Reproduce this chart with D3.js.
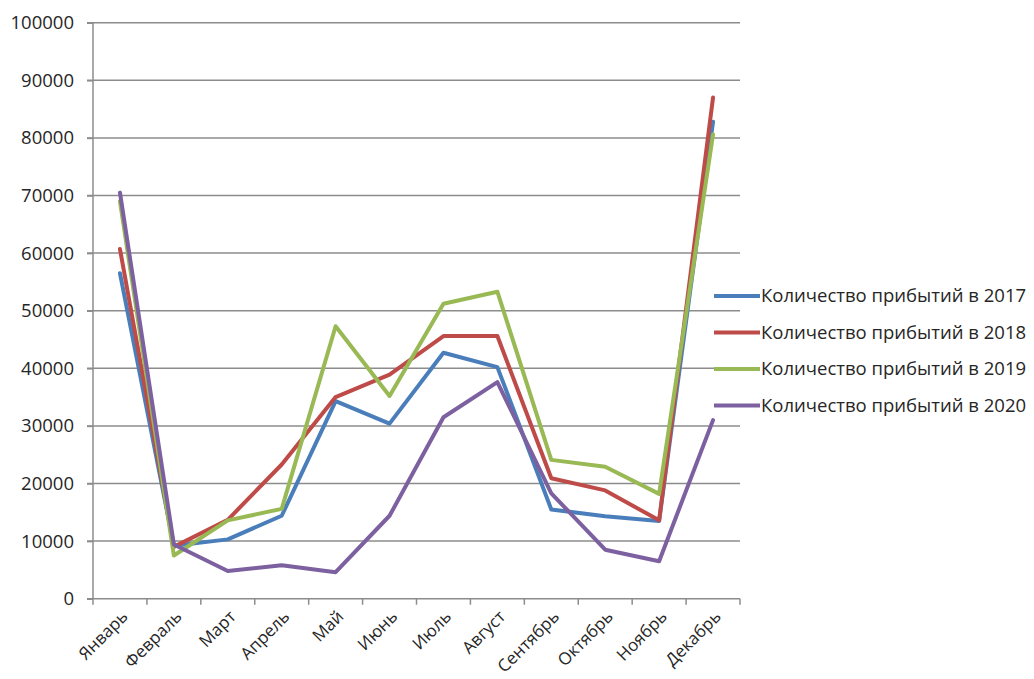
<!DOCTYPE html>
<html><head><meta charset="utf-8">
<script src="https://cdn.jsdelivr.net/npm/d3@7"></script>
<style>body{margin:0;background:#fff}svg{display:block}</style>
</head><body>
<svg id="c" width="1034" height="679"></svg>
<script>
const months = ["Январь","Февраль","Март","Апрель","Май","Июнь","Июль","Август","Сентябрь","Октябрь","Ноябрь","Декабрь"];
const yTicks = [0,10000,20000,30000,40000,50000,60000,70000,80000,90000,100000];
const seriesNames = ["Количество прибытий в 2017","Количество прибытий в 2018","Количество прибытий в 2019","Количество прибытий в 2020"];
const v2017 = [56500, 9200, 10300, 14400, 34300, 30400, 42700, 40200, 15500, 14300, 13500, 82800];
const v2018 = [60700, 9000, 13700, 23300, 35000, 38900, 45600, 45600, 20900, 18800, 13600, 87000];
const v2019 = [69000, 7500, 13600, 15600, 47300, 35200, 51200, 53300, 24100, 22900, 18200, 80600];
const v2020 = [70500, 9400, 4800, 5800, 4600, 14400, 31500, 37600, 18300, 8500, 6500, 31000];
const colors = ["#4a7ebb","#be4b48","#98b954","#7d60a0"];

const svg = d3.select("#c");
const x = d3.scaleBand().domain(months).range([93, 740]);
const y = d3.scaleLinear().domain([0,100000]).range([598.7, 22.7]);
const font = "'Open Sans', 'Liberation Sans', Arial, sans-serif";

// gridlines
svg.append("g").selectAll("line").data(yTicks.filter(d=>d>0)).join("line")
  .attr("x1", 87).attr("x2", 740).attr("y1", d=>y(d)).attr("y2", d=>y(d))
  .attr("stroke", "#8c8c8c").attr("stroke-width", 1.5);

// y axis
const ya = svg.append("g").attr("transform","translate(93,0)")
  .call(d3.axisLeft(y).tickValues(yTicks).tickSize(6).tickPadding(13).tickFormat(d3.format("d")));
ya.select(".domain").attr("stroke","#8c8c8c").attr("stroke-width",1.5).attr("d","M0,22.7V598.7");
ya.selectAll(".tick line").attr("stroke","#8c8c8c").attr("stroke-width",1.5);
ya.selectAll("text").attr("font-family",font).attr("font-size",18.5).attr("fill","#262626");

// x axis
const xa = svg.append("g").attr("transform","translate(0,598.7)");
xa.append("line").attr("x1",87).attr("x2",740).attr("stroke","#8c8c8c").attr("stroke-width",1.5);
const bounds = months.map(m=>x(m)).concat([x.range()[1]]);
xa.selectAll("line.tk").data(bounds).join("line").attr("class","tk")
  .attr("x1",d=>d).attr("x2",d=>d).attr("y1",0).attr("y2",6)
  .attr("stroke","#8c8c8c").attr("stroke-width",1.5);
xa.selectAll("text").data(months).join("text")
  .attr("transform", d=>`translate(${x(d)+x.bandwidth()/2+9},19) rotate(-45)`)
  .attr("text-anchor","end").attr("font-family",font).attr("font-size",17).attr("fill","#262626")
  .text(d=>d);

// lines
const series = [v2017, v2018, v2019, v2020];
const line = d3.line().x((d,i)=>x(months[i])+x.bandwidth()/2).y(d=>y(d));
svg.append("g").selectAll("path").data(series).join("path")
  .attr("d", line).attr("fill","none").attr("stroke",(d,i)=>colors[i])
  .attr("stroke-width",4).attr("stroke-linejoin","round").attr("stroke-linecap","round");

// legend
const lg = svg.append("g").selectAll("g").data(seriesNames).join("g")
  .attr("transform",(d,i)=>`translate(714,${296+i*36.5})`);
lg.append("line").attr("x1",0).attr("x2",46).attr("stroke",(d,i)=>colors[i]).attr("stroke-width",4);
lg.append("text").attr("x",47).attr("dy","0.35em").attr("font-family",font).attr("font-size",18.5)
  .attr("fill","#262626").text(d=>d);
</script>
</body></html>
